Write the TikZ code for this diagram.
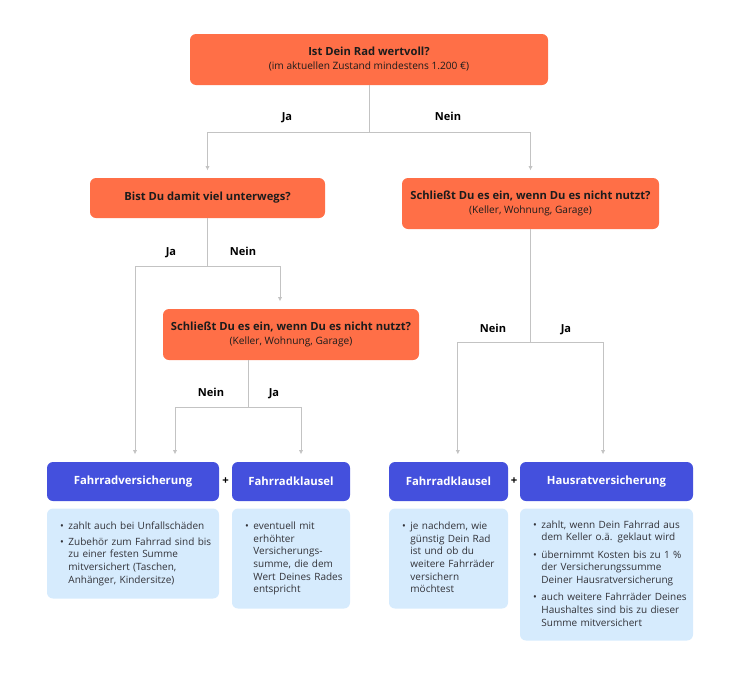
\documentclass[tikz,border=0pt]{standalone}
\usepackage{fontspec}
\setmainfont{Open Sans}
\usetikzlibrary{positioning, arrows.meta}

\definecolor{frageorange}{RGB}{255,111,71}
\definecolor{tarifblau}{RGB}{68,80,221}
\definecolor{infoblau}{RGB}{214,235,253}
\definecolor{liniengrau}{RGB}{195,195,195}
\definecolor{textdunkel}{RGB}{28,28,28}
\definecolor{textgrau}{RGB}{50,50,56}

\newcommand{\zusatz}[1]{{\fontsize{7.6}{10.5}\selectfont #1}}
\newcommand{\stichpunkt}[1]{\mbox{\textbullet\hspace{3.5pt}\begin{tabular}[t]{@{}l@{}}#1\end{tabular}}}

\tikzset{
  frage/.style={rectangle, rounded corners=4.5pt, fill=frageorange, text=textdunkel, align=center, inner sep=0pt, font=\fontsize{8.4}{10.5}\selectfont},
  tarif/.style={rectangle, rounded corners=4.5pt, fill=tarifblau, text=white, inner sep=0pt, minimum height=29.25pt, font=\fontsize{8.5}{10}\selectfont\bfseries},
  info/.style={rectangle, rounded corners=4.5pt, fill=infoblau, text=textgrau, align=left, inner xsep=9.75pt, inner ysep=0pt, anchor=north, font=\fontsize{7.5}{9.5}\selectfont},
  linie/.style={draw=liniengrau, line width=0.75pt},
  pfeil/.style={linie, -{Latex[length=3.2pt,width=3.2pt]}, shorten >=5.5pt},
  antwort/.style={text=black, text height=6pt, text depth=0.5pt, font=\fontsize{8.3}{9.5}\selectfont\bfseries},
}

\begin{document}
\begin{tikzpicture}[x=0.75pt,y=0.75pt,yscale=-1,xscale=1]
    \useasboundingbox (0,0) rectangle (738,682);

    % Fragen
    \node[frage, minimum width=268.5pt, minimum height=38.25pt] (wert) at (369,59.5) {\textbf{Ist Dein Rad wertvoll?}\\\zusatz{(im aktuellen Zustand mindestens 1.200 €)}};
    \node[frage, minimum width=176.25pt, minimum height=30pt] (unterwegs) at (207.5,198) {\textbf{Bist Du damit viel unterwegs?}};
    \node[frage, minimum width=192.75pt, minimum height=38.25pt] (abschliessenR) at (530.5,203.5) {\textbf{Schließt Du es ein, wenn Du es nicht nutzt?}\\\zusatz{(Keller, Wohnung, Garage)}};
    \node[frage, minimum width=192pt, minimum height=38.25pt] (abschliessenL) at (291,334.5) {\textbf{Schließt Du es ein, wenn Du es nicht nutzt?}\\\zusatz{(Keller, Wohnung, Garage)}};

    % Tarife
    \node[tarif, minimum width=129pt] (versicherung) at (133,481.5) {Fahrradversicherung};
    \node[tarif, minimum width=88.5pt] (klauselL) at (291,481.5) {Fahrradklausel};
    \node[tarif, minimum width=89.25pt] (klauselR) at (448.5,481.5) {Fahrradklausel};
    \node[tarif, minimum width=129.75pt] (hausrat) at (606.5,481.5) {Hausratversicherung};
    \node[font=\fontsize{8.5}{10}\selectfont\bfseries] (plusL) at (225.5,481.5) {+};
    \node[font=\fontsize{8.5}{10}\selectfont\bfseries] (plusR) at (514,481.5) {+};

    % Infos
    \node[info, below=5.25pt of versicherung, text width=109.5pt, minimum height=67.5pt] (infoVers) {\stichpunkt{zahlt auch bei Unfallschäden}\\[2.5pt]\stichpunkt{Zubehör zum Fahrrad sind bis\\zu einer festen Summe\\mitversichert (Taschen,\\Anhänger, Kindersitze)}};
    \node[info, below=5.25pt of klauselL, text width=69pt, minimum height=75pt] (infoKlL) {\stichpunkt{eventuell mit\\erhöhter\\Versicherungs-\\summe, die dem\\Wert Deines Rades\\entspricht}};
    \node[info, below=5.25pt of klauselR, text width=69.75pt, minimum height=75pt] (infoKlR) {\stichpunkt{je nachdem, wie\\günstig Dein Rad\\ist und ob du\\weitere Fahrräder\\versichern\\möchtest}};
    \node[info, below=5.25pt of hausrat, text width=110.25pt, minimum height=99pt] (infoHaus) {\stichpunkt{zahlt, wenn Dein Fahrrad aus\\dem Keller o.ä. geklaut wird}\\[2.5pt]\stichpunkt{übernimmt Kosten bis zu 1~\%\\der Versicherungssumme\\Deiner Hausratversicherung}\\[2.5pt]\stichpunkt{auch weitere Fahrräder Deines\\Haushaltes sind bis zu dieser\\Summe mitversichert}};

    % Verbindungen
    \draw[linie] (wert.south) -- ++(0,47) coordinate (gabel1);
    \draw[pfeil] (gabel1) -| (unterwegs);
    \draw[pfeil] (gabel1) -| (abschliessenR);

    \draw[linie] (unterwegs.south) -- ++(0,48) coordinate (gabel2);
    \draw[pfeil] (gabel2) -| ([xshift=1.5pt]versicherung.north);
    \draw[pfeil] (gabel2) -| ([xshift=-8.25pt]abschliessenL.north);

    \draw[linie] ([xshift=-32.25pt]abschliessenL.south) -- ++(0,47) coordinate (gabel3);
    \draw[pfeil] (gabel3) -| ([xshift=31.5pt]versicherung.north);
    \draw[pfeil] (gabel3) -| ([xshift=7.5pt]klauselL.north);

    \draw[linie] (abschliessenR.south) -- ++(0,113) coordinate (gabel4);
    \draw[pfeil] (gabel4) -| ([xshift=7pt]klauselR.north);
    \draw[pfeil] (gabel4) -| ([xshift=-2.6pt]hausrat.north);

    % Antworten
    \node[antwort] (ja1) at (287,117) {Ja};
    \node[antwort] (nein1) at (448,117) {Nein};
    \node[antwort] (ja2) at (171,252) {Ja};
    \node[antwort] (nein2) at (243,252) {Nein};
    \node[antwort] (nein3) at (211,393) {Nein};
    \node[antwort] (ja3) at (274,393) {Ja};
    \node[antwort] (nein4) at (493,329) {Nein};
    \node[antwort] (ja4) at (566,329) {Ja};
\end{tikzpicture}
\end{document}
